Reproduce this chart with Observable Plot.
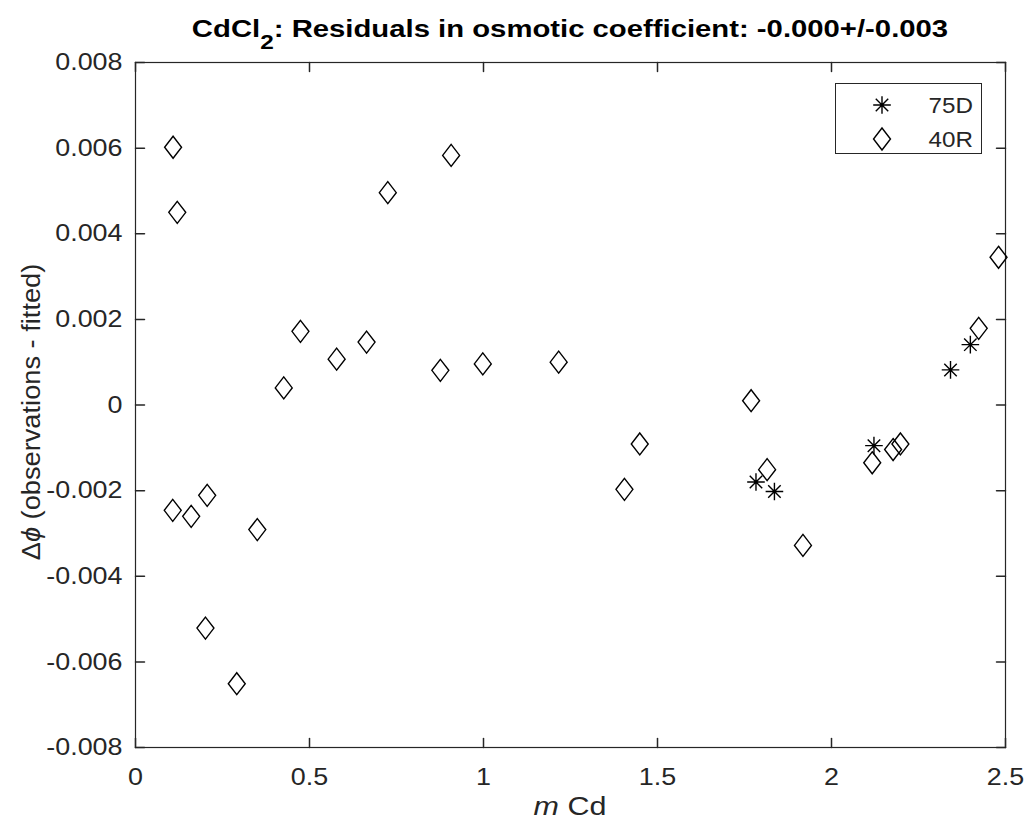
<!DOCTYPE html>
<html><head><meta charset="utf-8">
<script src="https://cdn.jsdelivr.net/npm/d3@7"></script>
<script src="https://cdn.jsdelivr.net/npm/@observablehq/plot@0.6"></script>
<style>body{margin:0;background:#fff} svg{display:block}</style>
</head><body><div id="chart"></div>
<script>
// ---- data ----
const seriesNames = ["75D", "40R"];
const x75 = [1.783, 1.836, 2.122, 2.342, 2.399];
const y75 = [-0.00180, -0.00202, -0.00095, 0.00082, 0.00141];
const x40 = [0.108, 0.120, 0.107, 0.160, 0.206, 0.201, 0.291, 0.350, 0.426, 0.474, 0.578, 0.664, 0.725, 0.876, 0.907, 0.998, 1.216, 1.405, 1.449, 1.769, 1.815, 1.918, 2.117, 2.177, 2.198, 2.423, 2.480];
const y40 = [0.00602, 0.00450, -0.00246, -0.00260, -0.00211, -0.00521, -0.00651, -0.00291, 0.00040, 0.00172, 0.00107, 0.00147, 0.00496, 0.00081, 0.00583, 0.00096, 0.00100, -0.00197, -0.00091, 0.00010, -0.00151, -0.00328, -0.00135, -0.00104, -0.00091, 0.00179, 0.00345];
const xTicks = [0, 0.5, 1, 1.5, 2, 2.5];
const xTickLabels = ["0", "0.5", "1", "1.5", "2", "2.5"];
const yTicks = [-0.008, -0.006, -0.004, -0.002, 0, 0.002, 0.004, 0.006, 0.008];
const yTickLabels = ["-0.008", "-0.006", "-0.004", "-0.002", "0", "0.002", "0.004", "0.006", "0.008"];

const d75 = x75.map((x, i) => ({x, y: y75[i]}));
const d40 = x40.map((x, i) => ({x, y: y40[i]}));

const INK = "#262626";
const FONT = "'Liberation Sans', Arial, Helvetica, sans-serif";

// MATLAB-like marker shapes
const diamond = {
  draw(ctx, size) {
    const r = Math.sqrt(size / Math.PI);
    const w = r * 1.06, h = r * 1.375;
    ctx.moveTo(0, -h); ctx.lineTo(w, 0); ctx.lineTo(0, h); ctx.lineTo(-w, 0); ctx.closePath();
  }
};
const asterisk = {
  draw(ctx, size) {
    const r = Math.sqrt(size / Math.PI);
    const a = r * 1.1, d = r * 0.78;
    ctx.moveTo(-a, 0); ctx.lineTo(a, 0);
    ctx.moveTo(0, -a); ctx.lineTo(0, a);
    ctx.moveTo(-d, -d); ctx.lineTo(d, d);
    ctx.moveTo(-d, d); ctx.lineTo(d, -d);
  }
};
const tickShape = { draw(ctx, l) { ctx.moveTo(0, 0); ctx.lineTo(0, -l); } };

const TL = 9; // inward tick length
const plot = Plot.plot({
  width: 1025, height: 828,
  marginLeft: 135, marginRight: 20, marginTop: 62, marginBottom: 81,
  style: {fontFamily: FONT, fontSize: "24px", color: INK, background: "#fff"},
  x: {domain: [0, 2.5]},
  y: {domain: [-0.008, 0.008]},
  marks: [
    Plot.axisX({ticks: xTicks, tickSize: 0, tickPadding: 20, tickFormat: d => xTickLabels[xTicks.indexOf(d)], label: null, fill: INK}),
    Plot.axisY({ticks: yTicks, tickSize: 0, tickPadding: 13, tickFormat: d => yTickLabels[yTicks.indexOf(d)], label: null, fill: INK}),
    Plot.vector(xTicks, {x: d => d, y: () => -0.008, rotate: 0, length: TL, anchor: "start", shape: tickShape, stroke: INK}),
    Plot.vector(xTicks, {x: d => d, y: () => 0.008, rotate: 180, length: TL, anchor: "start", shape: tickShape, stroke: INK}),
    Plot.vector(yTicks, {x: () => 0, y: d => d, rotate: 90, length: TL, anchor: "start", shape: tickShape, stroke: INK}),
    Plot.vector(yTicks, {x: () => 2.5, y: d => d, rotate: -90, length: TL, anchor: "start", shape: tickShape, stroke: INK}),
    Plot.frame({stroke: INK, strokeWidth: 1.2}),
    Plot.dot(d40, {x: "x", y: "y", symbol: diamond, r: 8, stroke: "black", strokeWidth: 1.4, fill: "none"}),
    Plot.dot(d75, {x: "x", y: "y", symbol: asterisk, r: 8, stroke: "black", strokeWidth: 1.4, fill: "none"})
  ]
});
document.getElementById("chart").appendChild(plot);

const svg = d3.select(plot);

// widen tick label glyphs horizontally to match the reference rendering
const SX_TICK = 1.12;
svg.selectAll("g[aria-label$='tick label'] text").each(function () {
  const el = d3.select(this);
  const tr = el.attr("transform");
  if (tr) {
    el.attr("transform", tr + ` scale(${SX_TICK},1)`);
  } else {
    const x = +(el.attr("x") || 0), y = +(el.attr("y") || 0);
    el.attr("x", null).attr("y", null).attr("transform", `translate(${x},${y}) scale(${SX_TICK},1)`);
  }
});

// title
const t = svg.append("text").attr("transform", "translate(570,37) scale(1.22,1)").attr("text-anchor", "middle")
  .attr("font-family", FONT).attr("font-weight", "bold").attr("font-size", 24).attr("fill", "#000");
t.append("tspan").text("CdCl");
t.append("tspan").attr("dy", 12).attr("font-size", 20).text("2");
t.append("tspan").attr("dy", -12).text(": Residuals in osmotic coefficient: -0.000+/-0.003");

// y label
const yl = svg.append("text").attr("transform", "translate(40,412) rotate(-90) scale(1.09,1)").attr("text-anchor", "middle")
  .attr("font-family", FONT).attr("font-size", 25).attr("fill", INK);
yl.append("tspan").text("Δ");
yl.append("tspan").attr("font-style", "italic").text("ϕ");
yl.append("tspan").text(" (observations - fitted)");

// x label
const xl = svg.append("text").attr("transform", "translate(570,815) scale(1.22,1)").attr("text-anchor", "middle")
  .attr("font-family", FONT).attr("font-size", 25).attr("fill", INK);
xl.append("tspan").attr("font-style", "italic").text("m");
xl.append("tspan").text(" Cd");

// legend
const lg = svg.append("g");
lg.append("rect").attr("x", 835.5).attr("y", 83.5).attr("width", 146).attr("height", 70)
  .attr("fill", "#fff").attr("stroke", INK).attr("stroke-width", 1);
const syms = [asterisk, diamond];
seriesNames.forEach((name, i) => {
  const cy = 105 + i * 34;
  const p = d3.path(); syms[i].draw(p, 8 * 8 * Math.PI);
  lg.append("path").attr("d", p.toString()).attr("transform", `translate(882,${cy})`)
    .attr("fill", "none").attr("stroke", "black").attr("stroke-width", 1.4);
  lg.append("text").attr("transform", `translate(973,${cy + 8}) scale(1.1,1)`).attr("text-anchor", "end")
    .attr("font-family", FONT).attr("font-size", 22).attr("fill", INK).text(name);
});
</script>
</body></html>
